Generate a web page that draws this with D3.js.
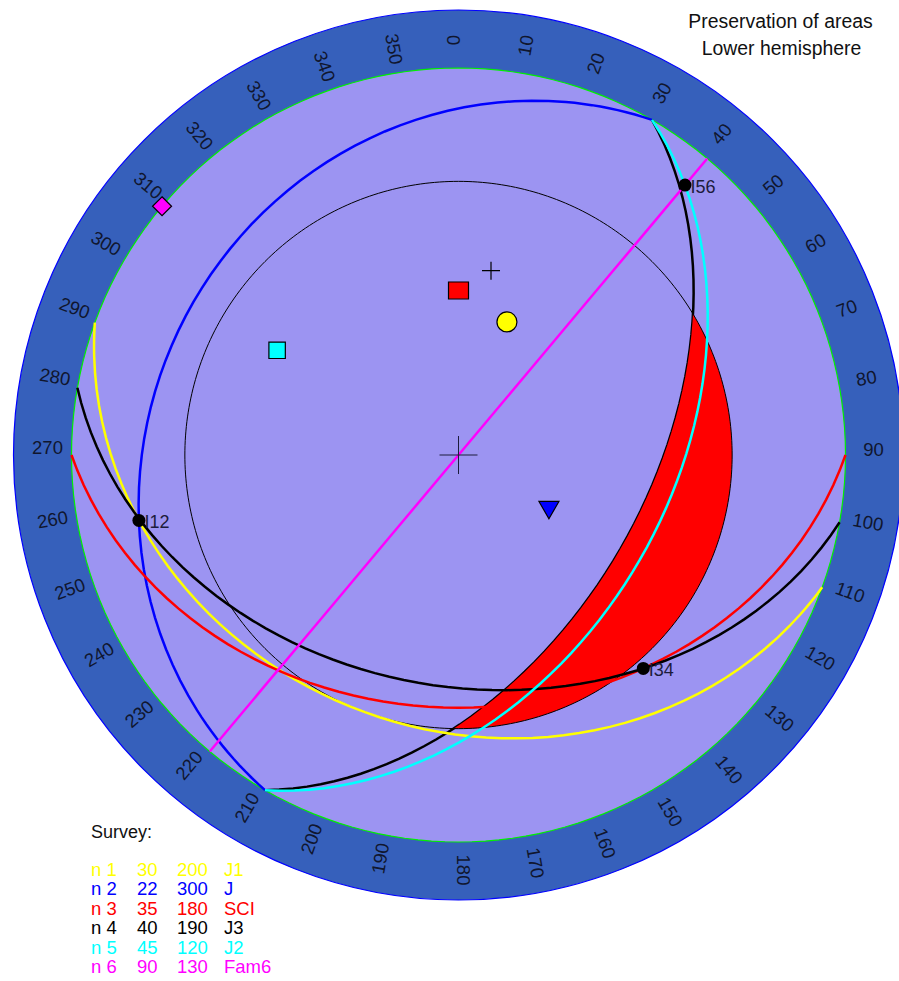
<!DOCTYPE html>
<html lang="en">
  <head>
    <title>Preservation of areas</title>
    <script src="https://d3js.org/d3.v7.min.js"></script>
    <style>
      html, body { margin: 0; background: #fff; overflow: hidden; }
      text { font-family: "Liberation Sans", Arial, sans-serif; }
    </style>
  </head>
  <body>
    <div id="net"></div>
    <script>
      // survey table, dip and dip direction in degrees
      var names = ["n 1", "n 2", "n 3", "n 4", "n 5", "n 6"];
      var dips = [30, 22, 35, 40, 45, 90];
      var dipDirs = [200, 300, 180, 190, 120, 130];
      var families = ["J1", "J", "SCI", "J3", "J2", "Fam6"];
      var colors = ["#ffff00", "#0000ff", "#ff0000", "#000000", "#00ffff", "#ff00ff"];

      // limit plane and friction cone
      var limitDip = 50;
      var limitDipDir = 120;
      var frictionPlunge = 30;

      var intersectionPairs = [[0, 1], [2, 3], [4, 5]];
      var intersectionLabels = ["I12", "I34", "I56"];
      var ringDegrees = d3.range(0, 360, 10);

      var width = 899;
      var height = 981;
      var cx = 458.5;
      var cy = 455;
      var netRadius = 387;
      var ringRadius = 445;

      var svg = d3.select("#net").append("svg")
        .attr("width", width)
        .attr("height", height)
        .style("display", "block");

      // lower hemisphere equal area net: lat is plunge, lon comes from trend
      var projection = d3.geoAzimuthalEqualArea()
        .rotate([0, -90])
        .scale(netRadius / Math.SQRT2)
        .translate([cx, cy])
        .precision(0.1);
      var path = d3.geoPath(projection);

      function geo(trend, plunge) {
        return [180 - trend, plunge];
      }

      function planeLine(dip, dipDir) {
        return {
          type: "LineString",
          coordinates: [geo(dipDir + 90, 0), geo(dipDir, dip), geo(dipDir - 90, 0)],
        };
      }

      function poleOf(dip, dipDir) {
        var t = (dipDir + 180) * Math.PI / 180;
        var p = (90 - dip) * Math.PI / 180;
        return [Math.cos(p) * Math.cos(t), Math.cos(p) * Math.sin(t), Math.sin(p)];
      }

      // line shared by two planes, pushed to the lower hemisphere
      function intersection(a, b) {
        var u = poleOf(dips[a], dipDirs[a]);
        var v = poleOf(dips[b], dipDirs[b]);
        var c = [u[1] * v[2] - u[2] * v[1], u[2] * v[0] - u[0] * v[2], u[0] * v[1] - u[1] * v[0]];
        if (c[2] < 0) c = c.map(function (d) { return -d; });
        var n = Math.hypot(c[0], c[1], c[2]);
        return geo(Math.atan2(c[1], c[0]) * 180 / Math.PI, Math.asin(c[2] / n) * 180 / Math.PI);
      }

      // ring and net
      svg.append("circle")
        .attr("cx", cx).attr("cy", cy).attr("r", ringRadius)
        .attr("fill", "#3660bb").attr("stroke", "#0000ff").attr("stroke-width", 1.2);
      svg.append("path")
        .datum({ type: "Sphere" })
        .attr("d", d3.geoPath(projection.clipAngle(90)))
        .attr("fill", "#9c94f2").attr("stroke", "#00f000").attr("stroke-width", 1.2);
      projection.clipAngle(null);

      // ring labels
      var ringAngle = d3.scaleLinear().domain([0, 360]).range([0, 2 * Math.PI]);
      svg.append("g").selectAll("text")
        .data(ringDegrees)
        .join("text")
        .attr("transform", function (d) {
          var pos = d3.pointRadial(ringAngle(d), 411);
          var rot = d <= 180 ? d - 90 : d - 270;
          return "translate(" + (cx + pos[0]) + "," + (cy + pos[1]) + ") rotate(" + rot + ")";
        })
        .attr("x", function (d) { return d <= 180 ? 4 : 0; })
        .attr("y", function (d) { return d <= 180 ? -5 : -7; })
        .attr("text-anchor", "middle")
        .attr("dy", "0.35em")
        .attr("fill", "#10162e")
        .style("font-size", "18.5px")
        .text(function (d) { return d; });

      // limit plane goes under the red so only a thin edge of it shows there
      var limit = planeLine(limitDip, limitDipDir);
      svg.append("path")
        .attr("d", path(limit))
        .attr("fill", "none").attr("stroke", "#000").attr("stroke-width", 2.5);

      // stable area: inside the friction cone and beyond the limit plane
      var reversed = { type: "LineString", coordinates: limit.coordinates.slice().reverse() };
      svg.append("clipPath").attr("id", "beyond-limit")
        .append("path")
        .attr("d", path(reversed) + "A" + netRadius + "," + netRadius + " 0 0 0 " +
          projection(limit.coordinates[2]) + "Z");

      var cone = d3.geoCircle().center([0, 90]).radius(90 - frictionPlunge).precision(1)();
      svg.append("path")
        .datum(cone)
        .attr("d", path)
        .attr("fill", "#ff0000")
        .attr("clip-path", "url(#beyond-limit)");
      svg.append("path")
        .datum(cone)
        .attr("d", path)
        .attr("fill", "none").attr("stroke", "#000").attr("stroke-width", 1);

      // great circles
      var lineLayer = svg.append("g").attr("fill", "none").attr("stroke-width", 2.5);
      d3.range(names.length).forEach(function (i) {
        lineLayer.append("path").attr("d", path(planeLine(dips[i], dipDirs[i]))).attr("stroke", colors[i]);
      });

      // centre cross
      function crossPath(s) {
        return "M" + -s + ",0H" + s + "M0," + -s + "V" + s;
      }
      var nadir = projection([0, 90]);
      svg.append("path")
        .attr("transform", "translate(" + nadir + ")")
        .attr("d", crossPath(19))
        .attr("fill", "none").attr("stroke", "#1c1c3c").attr("stroke-width", 1);

      // poles of the planes
      var poleShapes = [
        d3.symbol(d3.symbolCircle, 314)(),
        d3.symbol(d3.symbolTriangle, 173)(),
        d3.symbol(d3.symbolSquare, 400)(),
        crossPath(9),
        d3.symbol(d3.symbolSquare, 270)(),
        d3.symbol(d3.symbolDiamond2, 230)(),
      ];
      var poleFlips = [1, -1, 0.85, 1, 1, 1];
      svg.append("g").selectAll("path")
        .data(d3.range(names.length))
        .join("path")
        .attr("transform", function (i) {
          var p = projection(geo(dipDirs[i] + 180, 90 - dips[i]));
          return "translate(" + p + ") scale(1," + poleFlips[i] + ")";
        })
        .attr("d", function (i) { return poleShapes[i]; })
        .attr("fill", function (i) { return i === 3 ? "none" : colors[i]; })
        .attr("stroke", "#000")
        .attr("stroke-width", 1.2);

      // intersections
      var dots = svg.append("g").selectAll("g")
        .data(intersectionPairs)
        .join("g")
        .attr("transform", function (d) {
          return "translate(" + projection(intersection(d[0], d[1])) + ")";
        });
      dots.append("circle").attr("r", 6.5).attr("fill", "#000");
      dots.append("text")
        .attr("x", 5.5)
        .attr("y", 7.5)
        .attr("fill", "#1c1c3c")
        .style("font-size", "18px")
        .text(function (d, i) { return intersectionLabels[i]; });

      // title
      svg.append("text").attr("x", 780.5).attr("y", 27.5).attr("text-anchor", "middle")
        .style("font-size", "19.4px").attr("fill", "#111").text("Preservation of areas");
      svg.append("text").attr("x", 781.5).attr("y", 55).attr("text-anchor", "middle")
        .style("font-size", "19.4px").attr("fill", "#111").text("Lower hemisphere");

      // legend
      var legendTop = 875.5;
      var legendStep = 19.5;
      svg.append("text").attr("x", 91).attr("y", 838)
        .style("font-size", "18px").attr("fill", "#111").text("Survey:");
      var rows = svg.append("g").selectAll("g")
        .data(d3.range(names.length))
        .join("g")
        .attr("transform", function (i) { return "translate(0," + (legendTop + i * legendStep) + ")"; })
        .attr("fill", function (i) { return colors[i]; })
        .style("font-size", "18.5px");
      rows.append("text").attr("x", 91).text(function (i) { return names[i]; });
      rows.append("text").attr("x", 137).text(function (i) { return dips[i]; });
      rows.append("text").attr("x", 177).text(function (i) { return dipDirs[i]; });
      rows.append("text").attr("x", 224).text(function (i) { return families[i]; });
    </script>
  </body>
</html>
